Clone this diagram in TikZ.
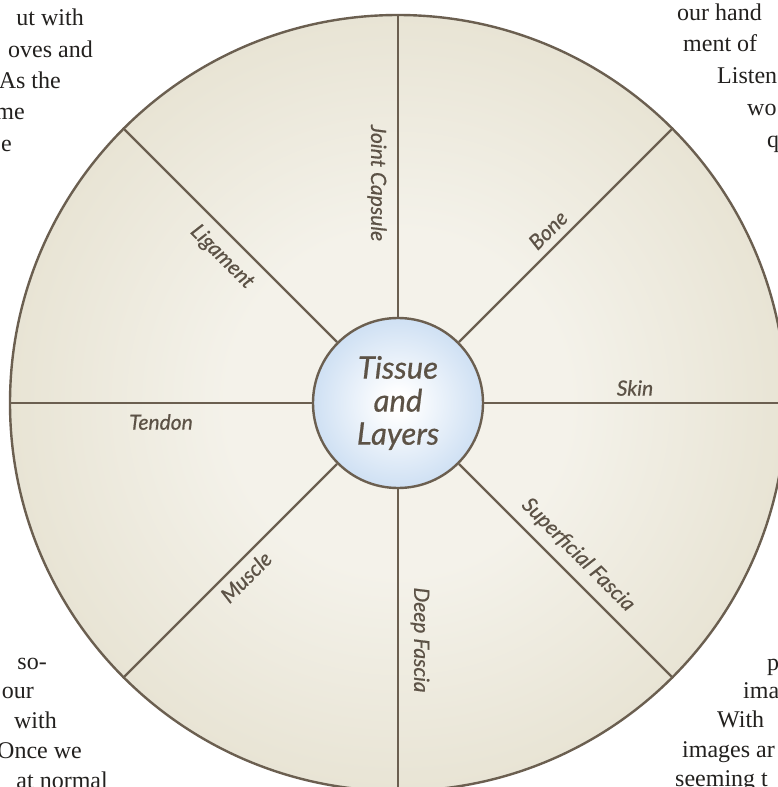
\documentclass[tikz,border=0pt]{standalone}
\usepackage{fontspec}
\setmainfont{Liberation Serif}
\newfontfamily\latofont{Lato}[FakeBold=0.6]
\definecolor{spokecol}{RGB}{107,95,80}
\definecolor{labelcol}{RGB}{92,82,70}
\definecolor{bodycol}{RGB}{35,33,31}
\definecolor{rimmid}{RGB}{244,242,234}
\definecolor{rimedge}{RGB}{211,203,174}
\definecolor{hubedge}{RGB}{152,189,230}
\pgfdeclareradialshading{rimshade}{\pgfpoint{0bp}{0bp}}{color(0bp)=(rimmid); color(11bp)=(rimmid); color(50bp)=(rimedge)}
\pgfdeclareradialshading{hubshade}{\pgfpoint{0bp}{0bp}}{color(0bp)=(white); color(3bp)=(white); color(50bp)=(hubedge)}

\begin{document}
\begin{tikzpicture}[x=1pt,y=1pt,
	rim/.style={circle,draw=spokecol,line width=2.4pt,shading=rimshade,minimum size=776pt,inner sep=0pt},
	hub/.style={circle,draw=spokecol,line width=2.4pt,shading=hubshade,minimum size=170pt,inner sep=0pt,
		align=center,text=labelcol,font=\latofont\itshape\fontsize{31}{33}\selectfont},
	spoke/.style={draw=spokecol,line width=2.2pt},
	lbl/.style={font=\latofont\itshape\fontsize{21}{21}\selectfont,text=labelcol,inner sep=0pt},
	bodyl/.style={font=\fontsize{24}{24}\selectfont,text=bodycol,inner sep=0pt,anchor=base east},
	bodyr/.style={font=\fontsize{24}{24}\selectfont,text=bodycol,inner sep=0pt,anchor=base west}]

	\useasboundingbox[fill=white] (0,0) rectangle (778,-787);

	% page text round the wheel
	\node[bodyl] (tl1) at (84,-25) {ut with};
	\node[bodyl] (tl2) at (93,-57) {oves and};
	\node[bodyl] (tl3) at (61,-88) {As the};
	\node[bodyl] (tl4) at (25,-119) {me};
	\node[bodyl] (tl5) at (12,-151) {e};

	\node[bodyr] (tr1) at (677,-20) {our hand};
	\node[bodyr] (tr2) at (683,-51) {ment of};
	\node[bodyr] (tr3) at (717,-83) {Listen};
	\node[bodyr] (tr4) at (747,-115) {wo};
	\node[bodyr] (tr5) at (767,-147) {q};

	\node[bodyl] (bl1) at (47,-669) {so-};
	\node[bodyl] (bl2) at (34,-698) {our};
	\node[bodyl] (bl3) at (57,-728) {with};
	\node[bodyl] (bl4) at (82,-758) {Once we};
	\node[bodyl] (bl5) at (108,-788) {at normal};

	\node[bodyr] (br1) at (767,-670) {p};
	\node[bodyr] (br2) at (743,-698) {ima};
	\node[bodyr] (br3) at (717,-727) {With};
	\node[bodyr] (br4) at (682,-757) {images ar};
	\node[bodyr] (br5) at (675,-786) {seeming t};

	% wheel
	\node[rim] (rim) at (398,-403) {};
	\node[hub] (hub) at (398,-403) {Tissue\\and\\Layers};
	\foreach \a in {0,45,...,315}
		\draw[spoke] (hub.\a) -- (rim.\a);

	\node[lbl,rotate=-90] (capsule) at (377,-183) {Joint Capsule};
	\node[lbl,rotate=45] (bone) at (548,-230) {Bone};
	\node[lbl] (skin) at (635,-388) {Skin};
	\node[lbl,rotate=-45] (superficial) at (578,-555) {Superficial Fascia};
	\node[lbl,rotate=-90] (deep) at (420,-640) {Deep Fascia};
	\node[lbl,rotate=45] (muscle) at (246,-577) {Muscle};
	\node[lbl] (tendon) at (161,-422) {Tendon};
	\node[lbl,rotate=-45] (ligament) at (222,-257) {Ligament};

\end{tikzpicture}
\end{document}
